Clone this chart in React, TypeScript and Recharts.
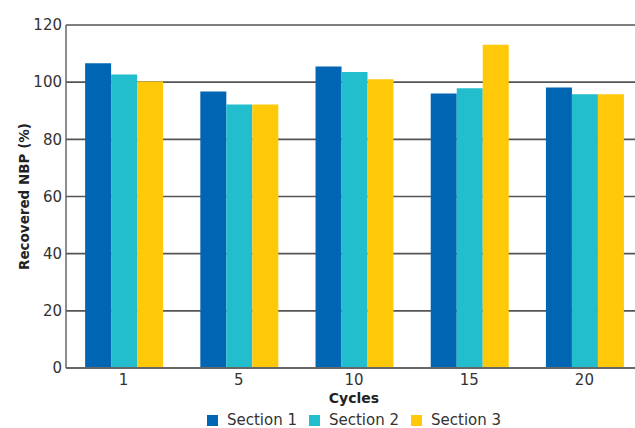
import { BarChart, Bar, XAxis, YAxis, CartesianGrid, Legend } from "recharts";

const cycles = ["1", "5", "10", "15", "20"];
const section1 = [106.6, 96.7, 105.5, 96.0, 98.1];
const section2 = [102.7, 92.2, 103.6, 97.9, 95.8];
const section3 = [100.2, 92.2, 101.0, 113.1, 95.8];
const yTicks = [0, 20, 40, 60, 80, 100, 120];
const seriesNames = ["Section 1", "Section 2", "Section 3"];
const seriesColors = ["#0066B3", "#22BECE", "#FFC90A"];

const data = cycles.map((c, i) => ({
  cycle: c,
  s1: section1[i],
  s2: section2[i],
  s3: section3[i],
}));

const font = "'DejaVu Sans', Verdana, sans-serif";

// legend sits centred under the plot area, not under the whole svg
function LegendBox() {
  return (
    <div
      style={{
        display: "flex",
        justifyContent: "center",
        alignItems: "center",
        height: 20,
        paddingLeft: 66,
        fontSize: 15,
        color: "#333",
        fontFamily: font,
      }}
    >
      {seriesNames.map((n, i) => (
        <div key={n} style={{ display: "flex", alignItems: "center", marginRight: i < 2 ? 12 : 0 }}>
          <span
            style={{
              display: "inline-block",
              width: 11,
              height: 11,
              background: seriesColors[i],
              marginRight: 9,
            }}
          />
          <span>{n}</span>
        </div>
      ))}
    </div>
  );
}

export default function App() {
  return (
    <div
      style={{
        position: "absolute",
        left: 0,
        top: 0,
        width: 635,
        height: 428,
        overflow: "hidden",
        background: "#fff",
        fontFamily: font,
      }}
    >
      <BarChart
        width={642}
        height={428}
        data={data}
        margin={{ top: 25, right: 0, left: 0, bottom: 0 }}
        barCategoryGap="16.6%"
        barGap={0}
      >
        <CartesianGrid vertical={false} stroke="#555" strokeWidth={1.6} />
        <XAxis
          dataKey="cycle"
          height={40}
          tickLine={false}
          tickSize={5}
          tickMargin={1}
          stroke="#666"
          strokeWidth={2}
          tick={{ fill: "#333", fontSize: 15, fontFamily: font }}
          label={{
            value: "Cycles",
            position: "insideBottom",
            offset: 5,
            fill: "#222",
            fontSize: 14,
            fontWeight: "bold",
            fontFamily: font,
          }}
        />
        <YAxis
          width={66}
          domain={[0, 120]}
          ticks={yTicks}
          interval={0}
          tickLine={false}
          tickSize={2}
          tickMargin={2}
          stroke="#666"
          strokeWidth={1.5}
          tick={{ fill: "#333", fontSize: 15, fontFamily: font }}
          label={{
            value: "Recovered NBP (%)",
            angle: -90,
            position: "center",
            dx: -9,
            fill: "#222",
            fontSize: 13.5,
            fontWeight: "bold",
            fontFamily: font,
          }}
        />
        <Legend
          verticalAlign="bottom"
          height={20}
          wrapperStyle={{ bottom: -2 }}
          content={() => <LegendBox />}
        />
        <Bar dataKey="s1" name="Section 1" fill={seriesColors[0]} isAnimationActive={false} />
        <Bar dataKey="s2" name="Section 2" fill={seriesColors[1]} isAnimationActive={false} />
        <Bar dataKey="s3" name="Section 3" fill={seriesColors[2]} isAnimationActive={false} />
      </BarChart>
    </div>
  );
}
